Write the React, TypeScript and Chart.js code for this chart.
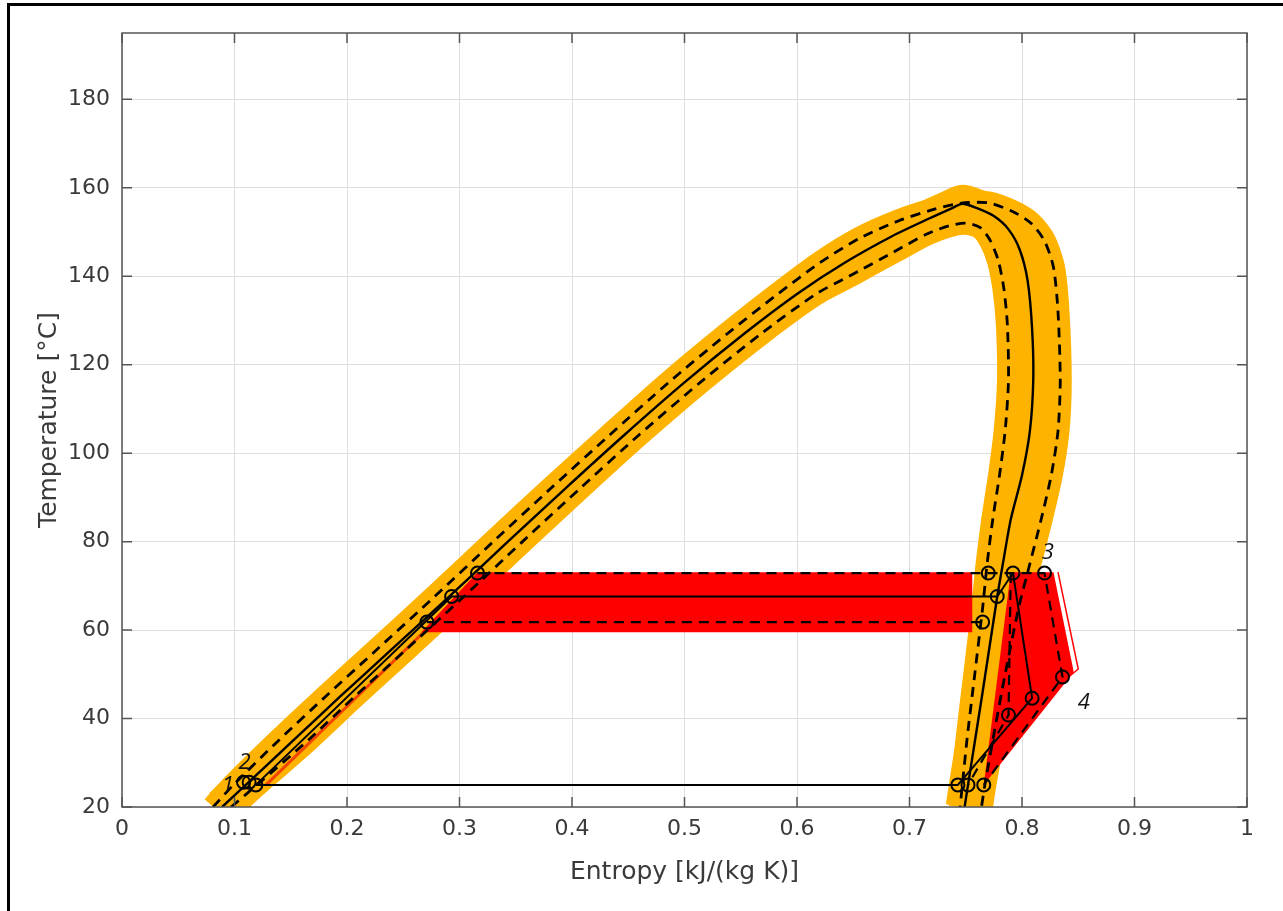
import { useEffect, useRef } from 'react';
import { Chart, registerables } from 'chart.js';

Chart.register(...registerables);

type P = [number, number];

// Saturation dome (entropy, temperature) – nominal (solid)
const domeMid: P[] = [
  [0.089, 20], [0.110, 25], [0.152, 35], [0.194, 45], [0.237, 55], [0.291, 67.6],
  [0.343, 80], [0.394, 92], [0.446, 104], [0.500, 116], [0.553, 127], [0.600, 136],
  [0.642, 143], [0.684, 149], [0.717, 153], [0.737, 155.3], [0.747, 156.4],
  [0.760, 155.4], [0.775, 153.6], [0.788, 150.6], [0.798, 146], [0.805, 139], [0.809, 128],
  [0.810, 116.5], [0.807, 105], [0.800, 95], [0.790, 85], [0.783, 75], [0.778, 67.6],
  [0.765, 46], [0.752, 25], [0.749, 20],
];
// Upper / outer bound of the dome (dashed)
const domeUpper: P[] = [
  [0.081, 20], [0.099, 25], [0.139, 35], [0.181, 45], [0.224, 55], [0.278, 67.6],
  [0.330, 80], [0.381, 92], [0.433, 104], [0.486, 116], [0.538, 127], [0.583, 136],
  [0.620, 143], [0.655, 148.5], [0.690, 152.5], [0.720, 155], [0.745, 156.5], [0.770, 156.6],
  [0.792, 154.6], [0.808, 152], [0.820, 148], [0.828, 142], [0.832, 132], [0.834, 116.5],
  [0.832, 105], [0.826, 95], [0.817, 85], [0.807, 75], [0.797, 65], [0.785, 50],
  [0.774, 35], [0.767, 25], [0.764, 20],
];
// Lower / inner bound of the dome (dashed)
const domeLower: P[] = [
  [0.097, 20], [0.120, 25], [0.165, 35], [0.207, 45], [0.250, 55], [0.304, 67.6],
  [0.356, 80], [0.407, 92], [0.459, 104], [0.514, 116], [0.568, 127], [0.617, 136],
  [0.650, 140.5], [0.686, 145.5], [0.715, 149.5], [0.735, 151.4], [0.750, 152],
  [0.763, 151], [0.772, 148], [0.779, 143.5], [0.784, 137], [0.787, 129], [0.788, 116.5],
  [0.785, 105], [0.780, 95], [0.774, 85], [0.769, 75], [0.765, 65], [0.758, 50],
  [0.751, 35], [0.747, 25], [0.745, 20],
];

// Red uncertainty regions
const evapTop: P[] = [[0.266, 59.5], [0.316, 73.1], [0.756, 73.1]];
const evapBottom: P[] = [[0.266, 59.5], [0.756, 59.5]];
const pumpEdge: P[] = [[0.128, 25], [0.268, 59.5]];
const superTop: P[] = [[0.766, 25], [0.790, 73.1], [0.828, 73.1], [0.846, 50.5]];
const superBottom: P[] = [[0.766, 25], [0.846, 50.5]];
const superEdge: P[] = [[0.832, 73.1], [0.850, 51.2], [0.842, 49.5]];

// Cycles
const cycleNominal: P[] = [
  [0.119, 25], [0.293, 67.6], [0.778, 67.6], [0.792, 72.9], [0.809, 44.6], [0.743, 25], [0.119, 25],
];
const cycleUpper: P[] = [[0.316, 72.9], [0.820, 72.9], [0.836, 49.4], [0.766, 25]];
const cycleLowerEvap: P[] = [[0.271, 61.8], [0.765, 61.8]];
const cycleLowerExp: P[] = [[0.790, 72.9], [0.788, 40.8], [0.752, 25]];

// State point markers
const markers: P[] = [
  [0.108, 25.6], [0.113, 25.6], [0.119, 25],
  [0.271, 61.8], [0.293, 67.6], [0.316, 72.9],
  [0.770, 72.9], [0.792, 72.9], [0.820, 72.9],
  [0.778, 67.6], [0.765, 61.8],
  [0.809, 44.6], [0.836, 49.4], [0.788, 40.8],
  [0.743, 25], [0.752, 25], [0.766, 25],
];

// State labels
const labelText = ['1', '2', '3', '4'];
const labelS = [0.094, 0.109, 0.823, 0.855];
const labelT = [24.8, 29.9, 77.4, 43.5];

const xMin = 0;
const xMax = 1;
const xStep = 0.1;
const yMin = 20;
const yMax = 195;
const yStep = 20;

const ORANGE = '#FDB300';
const RED = '#FF0000';
const TEXT = '#3a3a3a';

const toXY = (pts: P[]) => pts.map(([x, y]) => ({ x, y }));

const boxPlugin = {
  id: 'matlabBox',
  afterDatasetsDraw(chart: any) {
    const { ctx, chartArea: a, scales } = chart;
    const x = scales.x;
    const y = scales.y;
    ctx.save();
    ctx.strokeStyle = '#555555';
    ctx.lineWidth = 1.5;
    ctx.strokeRect(a.left, a.top, a.right - a.left, a.bottom - a.top);
    ctx.beginPath();
    const tl = 10;
    x.ticks.forEach((t: any) => {
      const px = x.getPixelForValue(t.value);
      ctx.moveTo(px, a.bottom);
      ctx.lineTo(px, a.bottom - tl);
      ctx.moveTo(px, a.top);
      ctx.lineTo(px, a.top + tl);
    });
    y.ticks.forEach((t: any) => {
      const py = y.getPixelForValue(t.value);
      ctx.moveTo(a.left, py);
      ctx.lineTo(a.left + tl, py);
      ctx.moveTo(a.right, py);
      ctx.lineTo(a.right - tl, py);
    });
    ctx.stroke();
    ctx.fillStyle = '#111';
    ctx.font = 'italic 22px "Open Sans"';
    ctx.textAlign = 'center';
    ctx.textBaseline = 'middle';
    labelText.forEach((txt, i) => {
      ctx.fillText(txt, x.getPixelForValue(labelS[i]), y.getPixelForValue(labelT[i]));
    });
    ctx.restore();
  },
};

export default function App() {
  const ref = useRef<HTMLCanvasElement>(null);

  useEffect(() => {
    if (!ref.current) return;
    const base = { showLine: true, pointRadius: 0, clip: 0, tension: 0, fill: false };
    const black = (d: P[], dashed: boolean, w: number, smooth = 0) => ({
      ...base,
      data: toXY(d),
      borderColor: '#000',
      borderWidth: w,
      borderDash: dashed ? [10, 7] : [],
      borderJoinStyle: 'round',
      tension: smooth,
      order: 5,
    });
    const orange = (d: P[], w: number) => ({
      ...base,
      data: toXY(d),
      borderColor: ORANGE,
      borderWidth: w,
      borderCapStyle: 'butt',
      borderJoinStyle: 'round',
      tension: 0.25,
      order: 20,
    });
    const datasets: any[] = [
      { ...base, data: toXY(evapTop), borderWidth: 0, borderColor: RED, backgroundColor: RED, fill: '+1', order: 15 },
      { ...base, data: toXY(evapBottom), borderWidth: 0, borderColor: RED, order: 15 },
      { ...base, data: toXY(superTop), borderWidth: 0, borderColor: RED, backgroundColor: RED, fill: '+1', order: 15 },
      { ...base, data: toXY(superBottom), borderWidth: 0, borderColor: RED, order: 15 },
      { ...base, data: toXY(pumpEdge), borderWidth: 3, borderColor: 'rgba(240,40,0,0.8)', order: 15 },
      { ...base, data: toXY(superEdge), borderWidth: 1.5, borderColor: RED, order: 15 },
      orange(domeMid, 38),
      orange(domeUpper, 23),
      orange(domeLower, 23),
      black(domeMid, false, 2.4, 0.25),
      black(domeUpper, true, 2.8, 0.25),
      black(domeLower, true, 2.8, 0.25),
      black(cycleNominal, false, 2),
      black(cycleUpper, true, 2.2),
      black(cycleLowerEvap, true, 2.2),
      black(cycleLowerExp, true, 2.2),
      {
        data: toXY(markers),
        showLine: false,
        pointRadius: 6.5,
        pointBorderColor: '#000',
        pointBackgroundColor: 'rgba(0,0,0,0)',
        pointBorderWidth: 2,
        clip: 0,
        order: 1,
      },
    ];

    const tickFont = { family: '"DejaVu Sans"', size: 22 };
    const titleFont = { family: '"DejaVu Sans"', size: 25 };

    const chart = new Chart(ref.current, {
      type: 'line',
      data: { datasets },
      plugins: [boxPlugin],
      options: {
        animation: false,
        responsive: false,
        maintainAspectRatio: false,
        events: [],
        layout: { padding: { left: 0, right: 36, top: 33, bottom: 0 } },
        plugins: { legend: { display: false }, tooltip: { enabled: false } },
        scales: {
          x: {
            type: 'linear',
            min: xMin,
            max: xMax,
            ticks: {
              stepSize: xStep,
              padding: 9,
              color: TEXT,
              font: tickFont,
              maxRotation: 0,
              autoSkip: false,
              callback: (v: any) => String(+Number(v).toFixed(1)),
            },
            grid: { color: '#dedede', lineWidth: 1, drawTicks: false },
            border: { display: false },
            title: {
              display: true,
              text: 'Entropy [kJ/(kg K)]',
              color: TEXT,
              font: titleFont,
              padding: { top: 0, bottom: 24 },
            },
            afterFit: (s: any) => {
              s.height = 104;
            },
          },
          y: {
            type: 'linear',
            min: yMin,
            max: yMax,
            ticks: {
              stepSize: yStep,
              includeBounds: false,
              padding: 12,
              color: TEXT,
              font: tickFont,
            },
            grid: { color: '#dedede', lineWidth: 1, drawTicks: false },
            border: { display: false },
            title: {
              display: true,
              text: 'Temperature [°C]',
              color: TEXT,
              font: titleFont,
              padding: { top: 34, bottom: 0 },
            },
            afterFit: (s: any) => {
              s.width = 122;
            },
          },
        },
      } as any,
    });
    return () => chart.destroy();
  }, []);

  return (
    <div style={{ position: 'absolute', left: 0, top: 0, width: 1283, height: 911, background: '#fff', overflow: 'hidden' }}>
      <div
        style={{
          position: 'absolute',
          left: 7,
          top: 3,
          width: 1276,
          height: 908,
          borderTop: '3px solid #000',
          borderLeft: '3px solid #000',
          boxSizing: 'border-box',
        }}
      />
      <canvas ref={ref} width={1283} height={911} style={{ position: 'absolute', left: 0, top: 0 }} />
    </div>
  );
}
